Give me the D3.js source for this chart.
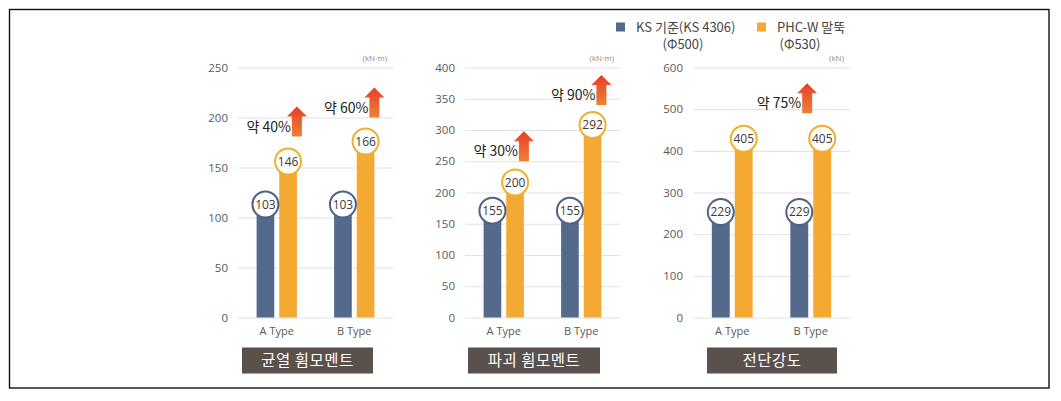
<!DOCTYPE html>
<html><head><meta charset="utf-8">
<script src="https://cdn.jsdelivr.net/npm/d3@7"></script>
<style>
html,body{margin:0;padding:0;background:#fff;}
svg{display:block;}
</style></head>
<body>
<svg id="c" width="1061" height="401"></svg>
<script>
// ---------- data ----------
const categories = ["A Type", "B Type"];
const seriesNames = ["KS 기준(KS 4306)", "PHC-W 말뚝"];
const seriesSub = ["(Φ500)", "(Φ530)"];
const chartTitles = ["균열 휨모멘트", "파괴 휨모멘트", "전단강도"];
const units = ["(kN·m)", "(kN·m)", "(kN)"];

const crackKS  = [103, 103];
const crackPHC = [146, 166];
const failKS   = [155, 155];
const failPHC  = [200, 292];
const shearKS  = [229, 229];
const shearPHC = [405, 405];

const crackTicks = [0, 50, 100, 150, 200, 250];
const failTicks  = [0, 50, 100, 150, 200, 250, 300, 350, 400];
const shearTicks = [0, 100, 200, 300, 400, 500, 600];

// annotation: label, category, value where the arrow base sits
const crackNotes = [{label: "약 40%", cat: "A Type", base: 181}, {label: "약 60%", cat: "B Type", base: 200}];
const failNotes  = [{label: "약 30%", cat: "A Type", base: 250}, {label: "약 90%", cat: "B Type", base: 340}];
const shearNotes = [{label: "약 75%", cat: "B Type", base: 490}];

// ---------- style ----------
const BLUE = "#536a8d", ORANGE = "#f4a933";
const STROKE = ["#4d6284", "#efb02c"];
const svg = d3.select("#c");
const defs = svg.append("defs");
const grad = defs.append("linearGradient").attr("id", "arrowGrad").attr("x1", 0).attr("y1", 0).attr("x2", 0).attr("y2", 1);
grad.append("stop").attr("offset", "0%").attr("stop-color", "#e53f2a");
grad.append("stop").attr("offset", "100%").attr("stop-color", "#f07f35");

const FONT = "'Open Sans','Noto Sans','Noto Sans CJK KR',sans-serif";
const KFONT = "'Noto Sans CJK KR','Noto Sans',sans-serif";

// outer frame
svg.append("rect").attr("x", 9.5).attr("y", 9.5).attr("width", 1039.5).attr("height", 378.5)
  .attr("fill", "none").attr("stroke", "#111").attr("stroke-width", 1.4);

const charts = [
  {ks: crackKS, phc: crackPHC, ticks: crackTicks, notes: crackNotes, title: chartTitles[0], unit: units[0],
   x0: 238, x1: 393, box: [242, 373], noteDx: 9},
  {ks: failKS, phc: failPHC, ticks: failTicks, notes: failNotes, title: chartTitles[1], unit: units[1],
   x0: 465, x1: 620, box: [468, 600], noteDx: 9},
  {ks: shearKS, phc: shearPHC, ticks: shearTicks, notes: shearNotes, title: chartTitles[2], unit: units[2],
   x0: 693, x1: 850, box: [707, 837], noteDx: -15}
];

const yTop = 67.5, yBot = 317.5;

charts.forEach(cfg => {
  const g = svg.append("g");
  const maxV = d3.max(cfg.ticks);
  const y = d3.scaleLinear().domain([0, maxV]).range([yBot, yTop]);
  const x = d3.scaleBand().domain(categories).range([cfg.x0, cfg.x1]).paddingInner(0.48).paddingOuter(0.24);
  const xs = d3.scaleBand().domain([0, 1]).range([0, x.bandwidth()]).paddingInner(0.22);

  // gridlines + y labels via axis
  const ax = g.append("g").attr("transform", `translate(${cfg.x0},0)`)
    .call(d3.axisLeft(y).tickValues(cfg.ticks).tickSize(-(cfg.x1 - cfg.x0)).tickPadding(10));
  ax.select(".domain").remove();
  ax.selectAll(".tick line").attr("stroke", "#e2e2e2").attr("stroke-width", 1);
  ax.selectAll(".tick text").attr("fill", "#595959").style("font-family", FONT).style("font-size", "11.5px");

  // x labels
  const axb = g.append("g").attr("transform", `translate(0,${yBot})`)
    .call(d3.axisBottom(x).tickSize(0).tickPadding(10));
  axb.select(".domain").remove();
  axb.selectAll(".tick text").attr("fill", "#595959").style("font-family", FONT).style("font-size", "11px");

  // unit
  g.append("text").attr("x", cfg.x1 - 6).attr("y", 61).attr("text-anchor", "end")
    .attr("fill", "#8a8a8a").style("font-family", FONT).style("font-size", "8px").text(cfg.unit);

  const rows = [];
  categories.forEach((c, i) => {
    rows.push({cat: c, s: 0, v: cfg.ks[i]});
    rows.push({cat: c, s: 1, v: cfg.phc[i]});
  });

  g.selectAll("rect.bar").data(rows).join("rect").attr("class", "bar")
    .attr("x", d => x(d.cat) + xs(d.s)).attr("width", xs.bandwidth())
    .attr("y", d => y(d.v)).attr("height", d => yBot - y(d.v))
    .attr("fill", d => d.s === 0 ? BLUE : ORANGE);

  const lab = g.selectAll("g.lab").data(rows).join("g").attr("class", "lab")
    .attr("transform", d => `translate(${x(d.cat) + xs(d.s) + xs.bandwidth() / 2},${y(d.v) - 10})`);
  lab.append("circle").attr("r", 13).attr("fill", "#fff")
    .attr("stroke", d => STROKE[d.s]).attr("stroke-width", 2);
  lab.append("text").attr("text-anchor", "middle").attr("dy", "0.36em")
    .attr("fill", "#3a3a3a").style("font-family", FONT).style("font-size", "12px").text(d => d.v);

  // annotations
  cfg.notes.forEach(n => {
    const cx = x(n.cat) + xs(1) + xs.bandwidth() + cfg.noteDx - 9;
    const yb = y(n.base);
    const h = 30, sw = 5, hw = 10, hh = 10;
    const p = d3.path();
    p.moveTo(cx - sw, yb); p.lineTo(cx - sw, yb - h + hh); p.lineTo(cx - hw, yb - h + hh);
    p.lineTo(cx, yb - h); p.lineTo(cx + hw, yb - h + hh); p.lineTo(cx + sw, yb - h + hh);
    p.lineTo(cx + sw, yb); p.closePath();
    g.append("path").attr("d", p.toString()).attr("fill", "url(#arrowGrad)");
    g.append("text").attr("x", cx - hw + 4).attr("y", yb - 5).attr("text-anchor", "end")
      .attr("fill", "#222").style("font-family", KFONT).style("font-size", "14px").style("font-weight", "400")
      .text(n.label);
  });

  // title box
  g.append("rect").attr("x", cfg.box[0]).attr("y", 347.5).attr("width", cfg.box[1] - cfg.box[0]).attr("height", 26)
    .attr("fill", "#5a504c");
  g.append("text").attr("x", (cfg.box[0] + cfg.box[1]) / 2).attr("y", 360.5).attr("dy", "0.36em")
    .attr("text-anchor", "middle").attr("fill", "#fff").style("font-family", KFONT).style("font-size", "15.5px")
    .style("letter-spacing", "0.5px").text(cfg.title);
});

// legend
const legX = [616, 757];
const legCenters = [683, 800];
seriesNames.forEach((name, i) => {
  const lg = svg.append("g");
  lg.append("rect").attr("x", legX[i]).attr("y", 22.5).attr("width", 9).attr("height", 9)
    .attr("fill", i === 0 ? BLUE : ORANGE);
  lg.append("text").attr("x", legX[i] + 20).attr("y", 32).attr("fill", "#444")
    .style("font-family", KFONT).style("font-size", "13px").text(name);
  lg.append("text").attr("x", legCenters[i]).attr("y", 49).attr("text-anchor", "middle").attr("fill", "#444")
    .style("font-family", KFONT).style("font-size", "13px").text(seriesSub[i]);
});
</script>
</body></html>
